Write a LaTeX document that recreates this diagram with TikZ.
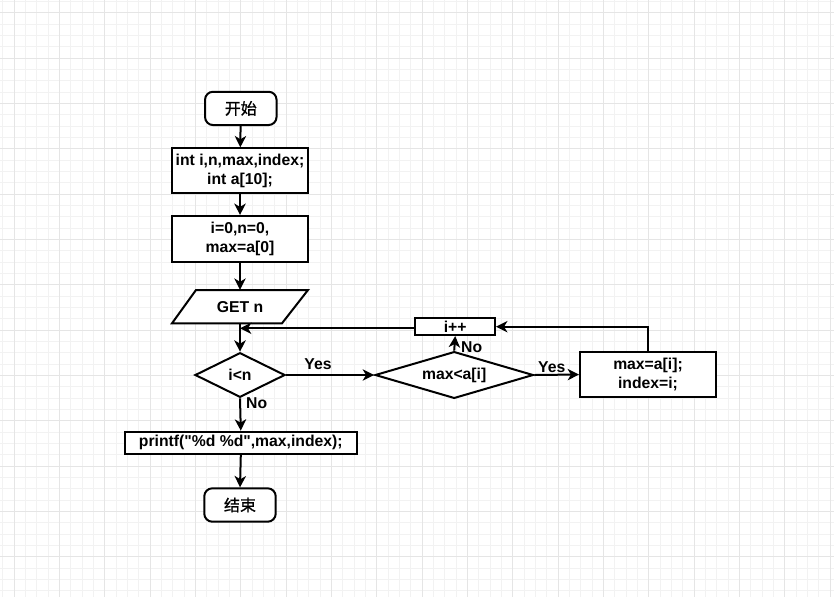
\documentclass[tikz,border=0pt]{standalone}
\usepackage{fontspec}
\setmainfont{Liberation Sans}[Ligatures=TeXOff]
\newfontfamily\cjk{Noto Sans CJK SC}[UprightFeatures={FakeBold=0.9}]
\usetikzlibrary{shapes.geometric,arrows.meta}
\newdimen\pxu \pxu=0.75pt
\newcommand\lblfont{\fontsize{11.8pt}{14.3pt}\selectfont\bfseries}
\newcommand\cjkfont{\cjk\fontsize{12pt}{14pt}\selectfont\mdseries}
\begin{document}
\begin{tikzpicture}[x=0.75pt,y=-0.75pt,
  minorgrid/.style={draw=black!5, line width=0.75pt},
  majorgrid/.style={draw=black!10, line width=0.75pt},
  box/.style={draw, line width=1.5pt, inner sep=0pt, align=center, font=\lblfont, fill=white},
  rbox/.style={box, rounded corners=6pt, font=\cjkfont},
  dia/.style={box, diamond, aspect=2},
  arr/.style={line width=1.5pt, -{Stealth[length=8.5pt,width=8.5pt,inset=2.5pt]}},
  lab/.style={font=\lblfont, inner sep=0pt}]
\useasboundingbox (0,0) rectangle (834,597);
\fill[white] (0,0) rectangle (834,597);
% grid
\foreach \k in {0,...,73} \draw[minorgrid] ({2.97+11.3333*\k},0) -- ++(0,597);
\foreach \k in {0,...,52} \draw[minorgrid] (0,{1.37+11.3333*\k}) -- ++(834,0);
\foreach \k in {0,...,18} \draw[majorgrid] ({14.3+45.3333*\k},0) -- ++(0,597);
\foreach \k in {0,...,12} \draw[majorgrid] (0,{12.7+45.3333*\k}) -- ++(834,0);

% nodes
\node[rbox, minimum width=71.5\pxu, minimum height=33.3\pxu] (start) at (240.8,108.4) {开始};
\node[box, minimum width=135.4\pxu, minimum height=45\pxu] (decl) at (240,170.8) {int i,n,max,index;\\int a[10];};
\node[box, minimum width=135.4\pxu, minimum height=45.7\pxu] (init) at (240,238.8) {i=0,n=0,\\max=a[0]};
\fill[white] (196,290) -- (308,290) -- (282,323.3) -- (172,323.3) -- cycle;
\draw[line width=1.5pt, line join=miter] (196,290) -- (308,290) -- (282,323.3) -- (172,323.3) -- cycle;
\node[lab, minimum width=110\pxu, minimum height=33.3\pxu] (getn) at (240,306.7) {GET n};
\node[dia, minimum width=90\pxu, minimum height=44.6\pxu] (cond1) at (240,375) {i<n};
\node[dia, minimum width=158.3\pxu, minimum height=44.6\pxu] (cond2) at (454.2,375) {max<a[i]};
\node[box, minimum width=79.7\pxu, minimum height=16.7\pxu] (inc) at (455.2,326.7) {i++};
\node[box, minimum width=136\pxu, minimum height=45.6\pxu] (assign) at (648,374.5) {max=a[i];\\index=i;};
\node[box, minimum width=231.7\pxu, minimum height=22.3\pxu] (out) at (240.8,442.8) {printf("\%d \%d",max,index);};
\node[rbox, minimum width=71.4\pxu, minimum height=33.4\pxu] (stop) at (240,505) {结束};

% connectors
\draw[arr] (start) -- (decl);
\draw[arr] (decl) -- (init);
\draw[arr] (init.south) -- (getn.north);
\draw[arr] (getn.south) -- (cond1.north);
\draw[arr] (inc.west |- 0,328.3) -- (cond1.north |- 0,328.3);
\draw[arr] (cond1.east) -- (cond2.west);
\draw[arr] (cond1.south) -- (out.north);
\draw[arr] (cond2.north) -- (inc.south);
\draw[arr] (cond2.east) -- (assign.west);
\draw[arr] (assign.north) |- (inc.east);
\draw[arr] (out.south) -- (stop.north);

% labels
\node[lab] (yes1) at (318,364) {Yes};
\node[lab] (no1) at (256.7,403.3) {No};
\node[lab] (no2) at (471.7,347) {No};
\node[lab] (yes2) at (551.7,367.3) {Yes};
\end{tikzpicture}
\end{document}
